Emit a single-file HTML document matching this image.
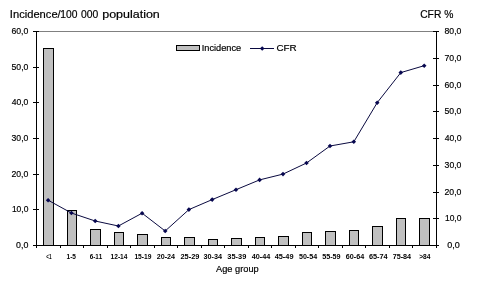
<!DOCTYPE html>
<html><head><meta charset="utf-8"><title>Incidence and CFR by age group</title>
<style>
html,body{margin:0;padding:0;background:#fff;}
body{width:478px;height:293px;overflow:hidden;}
svg{display:block;font-family:"Liberation Sans",sans-serif;font-kerning:none;}
.t11{font-size:10.5px;fill:#000;stroke:#000;stroke-width:0.18px;}
.t9{font-size:9px;fill:#000;stroke:#000;stroke-width:0.18px;}
.t7{font-size:7px;fill:#000;font-weight:bold;}
</style></head><body>
<svg width="478" height="293" viewBox="0 0 478 293">
<rect x="0" y="0" width="478" height="293" fill="#ffffff"/>

<rect x="36" y="31" width="401" height="1" fill="#808080"/>
<g shape-rendering="crispEdges">
<rect x="43" y="48" width="11" height="197" fill="#000"/>
<rect x="44" y="49" width="9" height="196" fill="#c0c0c0"/>
<rect x="67" y="210" width="10" height="35" fill="#000"/>
<rect x="68" y="211" width="8" height="34" fill="#c0c0c0"/>
<rect x="90" y="229" width="11" height="16" fill="#000"/>
<rect x="91" y="230" width="9" height="15" fill="#c0c0c0"/>
<rect x="114" y="232" width="10" height="13" fill="#000"/>
<rect x="115" y="233" width="8" height="12" fill="#c0c0c0"/>
<rect x="137" y="234" width="11" height="11" fill="#000"/>
<rect x="138" y="235" width="9" height="10" fill="#c0c0c0"/>
<rect x="161" y="237" width="10" height="8" fill="#000"/>
<rect x="162" y="238" width="8" height="7" fill="#c0c0c0"/>
<rect x="184" y="237" width="11" height="8" fill="#000"/>
<rect x="185" y="238" width="9" height="7" fill="#c0c0c0"/>
<rect x="208" y="239" width="10" height="6" fill="#000"/>
<rect x="209" y="240" width="8" height="5" fill="#c0c0c0"/>
<rect x="231" y="238" width="11" height="7" fill="#000"/>
<rect x="232" y="239" width="9" height="6" fill="#c0c0c0"/>
<rect x="255" y="237" width="10" height="8" fill="#000"/>
<rect x="256" y="238" width="8" height="7" fill="#c0c0c0"/>
<rect x="278" y="236" width="11" height="9" fill="#000"/>
<rect x="279" y="237" width="9" height="8" fill="#c0c0c0"/>
<rect x="302" y="232" width="10" height="13" fill="#000"/>
<rect x="303" y="233" width="8" height="12" fill="#c0c0c0"/>
<rect x="325" y="231" width="11" height="14" fill="#000"/>
<rect x="326" y="232" width="9" height="13" fill="#c0c0c0"/>
<rect x="349" y="230" width="10" height="15" fill="#000"/>
<rect x="350" y="231" width="8" height="14" fill="#c0c0c0"/>
<rect x="372" y="226" width="11" height="19" fill="#000"/>
<rect x="373" y="227" width="9" height="18" fill="#c0c0c0"/>
<rect x="396" y="218" width="10" height="27" fill="#000"/>
<rect x="397" y="219" width="8" height="26" fill="#c0c0c0"/>
<rect x="419" y="218" width="11" height="27" fill="#000"/>
<rect x="420" y="219" width="9" height="26" fill="#c0c0c0"/>
<rect x="36" y="31" width="1" height="215" fill="#000"/>
<rect x="436" y="31" width="1" height="215" fill="#000"/>
<rect x="36" y="245" width="401" height="1" fill="#000"/>
<rect x="33" y="245" width="6" height="1" fill="#000"/>
<rect x="33" y="209" width="6" height="1" fill="#000"/>
<rect x="33" y="174" width="6" height="1" fill="#000"/>
<rect x="33" y="138" width="6" height="1" fill="#000"/>
<rect x="33" y="102" width="6" height="1" fill="#000"/>
<rect x="33" y="67" width="6" height="1" fill="#000"/>
<rect x="33" y="31" width="6" height="1" fill="#000"/>
<rect x="433" y="245" width="6" height="1" fill="#000"/>
<rect x="433" y="218" width="6" height="1" fill="#000"/>
<rect x="433" y="192" width="6" height="1" fill="#000"/>
<rect x="433" y="165" width="6" height="1" fill="#000"/>
<rect x="433" y="138" width="6" height="1" fill="#000"/>
<rect x="433" y="111" width="6" height="1" fill="#000"/>
<rect x="433" y="85" width="6" height="1" fill="#000"/>
<rect x="433" y="58" width="6" height="1" fill="#000"/>
<rect x="433" y="31" width="6" height="1" fill="#000"/>
<rect x="36" y="245" width="1" height="3" fill="#000"/>
<rect x="60" y="245" width="1" height="3" fill="#000"/>
<rect x="83" y="245" width="1" height="3" fill="#000"/>
<rect x="107" y="245" width="1" height="3" fill="#000"/>
<rect x="130" y="245" width="1" height="3" fill="#000"/>
<rect x="154" y="245" width="1" height="3" fill="#000"/>
<rect x="177" y="245" width="1" height="3" fill="#000"/>
<rect x="201" y="245" width="1" height="3" fill="#000"/>
<rect x="224" y="245" width="1" height="3" fill="#000"/>
<rect x="248" y="245" width="1" height="3" fill="#000"/>
<rect x="271" y="245" width="1" height="3" fill="#000"/>
<rect x="295" y="245" width="1" height="3" fill="#000"/>
<rect x="318" y="245" width="1" height="3" fill="#000"/>
<rect x="342" y="245" width="1" height="3" fill="#000"/>
<rect x="365" y="245" width="1" height="3" fill="#000"/>
<rect x="389" y="245" width="1" height="3" fill="#000"/>
<rect x="412" y="245" width="1" height="3" fill="#000"/>
<rect x="436" y="245" width="1" height="3" fill="#000"/>
</g>
<polyline points="48.1,200.2 71.4,213 95.2,221 118.4,226 142.1,213.2 165.2,231 188.9,209.6 212.2,199.6 236,189.7 259.6,179.9 283,174.1 306.5,163 330,146 353.8,141.8 377.2,102.7 400.8,72.6 424.2,65.7" fill="none" stroke="#0a0a40" stroke-width="1"/>
<path d="M45.8,200.2L48.1,197.9L50.4,200.2L48.1,202.5Z" fill="#080850"/>
<path d="M69.1,213L71.4,210.7L73.7,213L71.4,215.3Z" fill="#080850"/>
<path d="M92.9,221L95.2,218.7L97.5,221L95.2,223.3Z" fill="#080850"/>
<path d="M116.1,226L118.4,223.7L120.7,226L118.4,228.3Z" fill="#080850"/>
<path d="M139.8,213.2L142.1,210.9L144.4,213.2L142.1,215.5Z" fill="#080850"/>
<path d="M162.9,231L165.2,228.7L167.5,231L165.2,233.3Z" fill="#080850"/>
<path d="M186.6,209.6L188.9,207.3L191.2,209.6L188.9,211.9Z" fill="#080850"/>
<path d="M209.9,199.6L212.2,197.3L214.5,199.6L212.2,201.9Z" fill="#080850"/>
<path d="M233.7,189.7L236,187.4L238.3,189.7L236,192.0Z" fill="#080850"/>
<path d="M257.3,179.9L259.6,177.6L261.9,179.9L259.6,182.2Z" fill="#080850"/>
<path d="M280.7,174.1L283,171.8L285.3,174.1L283,176.4Z" fill="#080850"/>
<path d="M304.2,163L306.5,160.7L308.8,163L306.5,165.3Z" fill="#080850"/>
<path d="M327.7,146L330,143.7L332.3,146L330,148.3Z" fill="#080850"/>
<path d="M351.5,141.8L353.8,139.5L356.1,141.8L353.8,144.1Z" fill="#080850"/>
<path d="M374.9,102.7L377.2,100.4L379.5,102.7L377.2,105.0Z" fill="#080850"/>
<path d="M398.5,72.6L400.8,70.3L403.1,72.6L400.8,74.9Z" fill="#080850"/>
<path d="M421.9,65.7L424.2,63.4L426.5,65.7L424.2,68.0Z" fill="#080850"/>
<text class="t9" x="16.11" y="247.7" textLength="12.29" lengthAdjust="spacingAndGlyphs">0,0</text>
<text class="t9" x="11.92" y="211.7" textLength="16.48" lengthAdjust="spacingAndGlyphs">10,0</text>
<text class="t9" x="11.42" y="176.7" textLength="16.98" lengthAdjust="spacingAndGlyphs">20,0</text>
<text class="t9" x="11.53" y="140.7" textLength="16.87" lengthAdjust="spacingAndGlyphs">30,0</text>
<text class="t9" x="11.66" y="104.7" textLength="16.73" lengthAdjust="spacingAndGlyphs">40,0</text>
<text class="t9" x="11.51" y="69.7" textLength="16.89" lengthAdjust="spacingAndGlyphs">50,0</text>
<text class="t9" x="11.42" y="33.7" textLength="16.98" lengthAdjust="spacingAndGlyphs">60,0</text>
<text class="t9" x="447.35" y="247.7" textLength="12.50" lengthAdjust="spacingAndGlyphs">0,0</text>
<text class="t9" x="444.96" y="220.7" textLength="16.48" lengthAdjust="spacingAndGlyphs">10,0</text>
<text class="t9" x="444.46" y="194.7" textLength="16.98" lengthAdjust="spacingAndGlyphs">20,0</text>
<text class="t9" x="444.57" y="167.7" textLength="16.87" lengthAdjust="spacingAndGlyphs">30,0</text>
<text class="t9" x="444.70" y="140.7" textLength="16.73" lengthAdjust="spacingAndGlyphs">40,0</text>
<text class="t9" x="444.55" y="113.7" textLength="16.89" lengthAdjust="spacingAndGlyphs">50,0</text>
<text class="t9" x="444.46" y="87.7" textLength="16.98" lengthAdjust="spacingAndGlyphs">60,0</text>
<text class="t9" x="444.45" y="60.7" textLength="16.99" lengthAdjust="spacingAndGlyphs">70,0</text>
<text class="t9" x="444.52" y="33.7" textLength="16.92" lengthAdjust="spacingAndGlyphs">80,0</text>
<text class="t7" x="46.20" y="259.0" textLength="5.33" lengthAdjust="spacingAndGlyphs">&lt;1</text>
<text class="t7" x="66.59" y="259.0" textLength="9.39" lengthAdjust="spacingAndGlyphs">1-5</text>
<text class="t7" x="89.67" y="259.0" textLength="12.61" lengthAdjust="spacingAndGlyphs">6-11</text>
<text class="t7" x="110.59" y="259.0" textLength="16.85" lengthAdjust="spacingAndGlyphs">12-14</text>
<text class="t7" x="134.38" y="259.0" textLength="17.07" lengthAdjust="spacingAndGlyphs">15-19</text>
<text class="t7" x="156.75" y="259.0" textLength="18.29" lengthAdjust="spacingAndGlyphs">20-24</text>
<text class="t7" x="180.44" y="259.0" textLength="18.93" lengthAdjust="spacingAndGlyphs">25-29</text>
<text class="t7" x="203.43" y="259.0" textLength="18.61" lengthAdjust="spacingAndGlyphs">30-34</text>
<text class="t7" x="227.33" y="259.0" textLength="18.94" lengthAdjust="spacingAndGlyphs">35-39</text>
<text class="t7" x="251.79" y="259.0" textLength="18.55" lengthAdjust="spacingAndGlyphs">40-44</text>
<text class="t7" x="274.69" y="259.0" textLength="18.78" lengthAdjust="spacingAndGlyphs">45-49</text>
<text class="t7" x="298.98" y="259.0" textLength="18.16" lengthAdjust="spacingAndGlyphs">50-54</text>
<text class="t7" x="322.18" y="259.0" textLength="18.39" lengthAdjust="spacingAndGlyphs">55-59</text>
<text class="t7" x="345.84" y="259.0" textLength="18.40" lengthAdjust="spacingAndGlyphs">60-64</text>
<text class="t7" x="368.93" y="259.0" textLength="18.71" lengthAdjust="spacingAndGlyphs">65-74</text>
<text class="t7" x="392.69" y="259.0" textLength="18.45" lengthAdjust="spacingAndGlyphs">75-84</text>
<text class="t7" x="419.22" y="259.0" textLength="11.21" lengthAdjust="spacingAndGlyphs">&gt;84</text>
<text class="t11" x="9.87" y="17.6" textLength="50.83" lengthAdjust="spacingAndGlyphs">Incidence/</text>
<text class="t11" x="60.22" y="17.6" textLength="17.19" lengthAdjust="spacingAndGlyphs">100</text>
<text class="t11" x="80.99" y="17.6" textLength="17.31" lengthAdjust="spacingAndGlyphs">000</text>
<text class="t11" x="102.20" y="17.6" textLength="57.62" lengthAdjust="spacingAndGlyphs">population</text>
<text class="t11" x="420.18" y="17.6" textLength="33.19" lengthAdjust="spacingAndGlyphs">CFR %</text>
<text class="t9" x="216.08" y="272.1" textLength="42.61" lengthAdjust="spacingAndGlyphs">Age group</text>
<g shape-rendering="crispEdges"><rect x="176" y="45" width="24" height="6" fill="#000"/><rect x="177" y="46" width="22" height="4" fill="#c0c0c0"/></g>
<text class="t9" x="201.75" y="50.9" textLength="39.36" lengthAdjust="spacingAndGlyphs">Incidence</text>
<line x1="250" y1="48.5" x2="274" y2="48.5" stroke="#0a0a40" stroke-width="1"/>
<path d="M259.9,48.5L262.2,46.2L264.5,48.5L262.2,50.8Z" fill="#080850"/>
<text class="t9" x="276.40" y="50.9" textLength="20.26" lengthAdjust="spacingAndGlyphs">CFR</text>
</svg></body></html>
